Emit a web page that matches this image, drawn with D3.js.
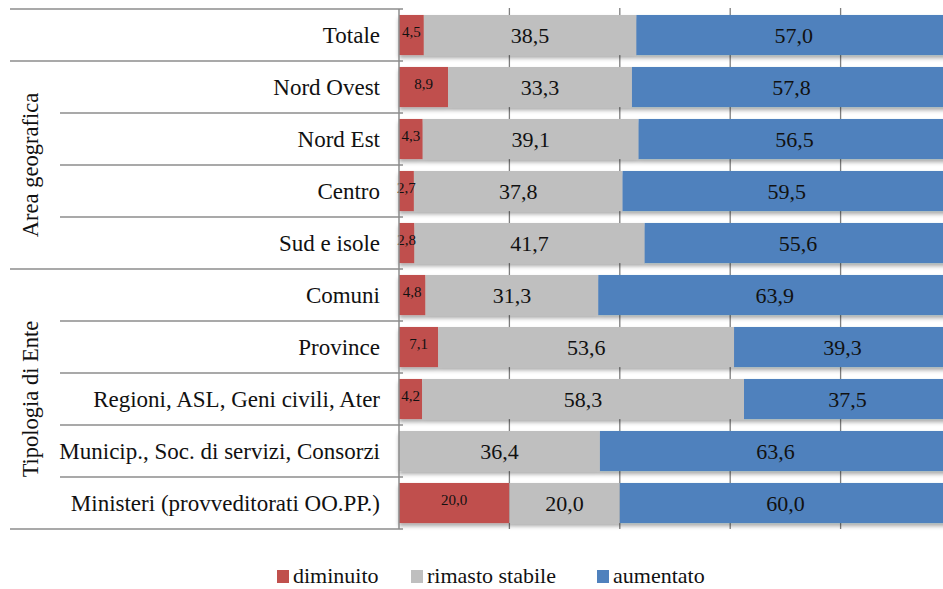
<!DOCTYPE html>
<html>
<head>
<meta charset="utf-8">
<script src="https://cdn.jsdelivr.net/npm/d3@7"></script>
<style>
  body { margin: 0; background: #fff; }
</style>
</head>
<body>
<div id="chart"></div>
<script>
var categories = ["Totale", "Nord Ovest", "Nord Est", "Centro", "Sud e isole", "Comuni", "Province",
  "Regioni, ASL, Geni civili, Ater", "Municip., Soc. di servizi, Consorzi", "Ministeri (provveditorati OO.PP.)"]
var diminuito = [4.5, 8.9, 4.3, 2.7, 2.8, 4.8, 7.1, 4.2, 0, 20.0]
var stabile   = [38.5, 33.3, 39.1, 37.8, 41.7, 31.3, 53.6, 58.3, 36.4, 20.0]
var aumentato = [57.0, 57.8, 56.5, 59.5, 55.6, 63.9, 39.3, 37.5, 63.6, 60.0]
var seriesNames = ["diminuito", "rimasto stabile", "aumentato"]
var groupNames = ["Area geografica", "Tipologia di Ente"]
var groupRows = [[1, 4], [5, 9]]   // first and last category index of each group
var gridTicks = [20, 40, 60, 80]

var colors = ["#C0504D", "#BFBFBF", "#4F81BD"]
var FONT = "'Liberation Serif', monospace"
var W = 943, H = 589

var svg = d3.select("#chart").append("svg")
    .attr("width", W).attr("height", H)

var defs = svg.append("defs")
var f = defs.append("filter").attr("id", "shadow")
    .attr("x", "-5%").attr("y", "-20%").attr("width", "110%").attr("height", "160%")
f.append("feDropShadow").attr("dx", 0).attr("dy", 3).attr("stdDeviation", 2)
  .attr("flood-color", "#000").attr("flood-opacity", 0.35)

var x = d3.scaleLinear().domain([0, 100]).range([399, 951])
var y = d3.scaleBand().domain(categories).range([9, 529])
    .paddingInner(0.23).paddingOuter(0.115)

var gap = (y.step() - y.bandwidth()) / 2
function rowTop(i) { return y(categories[i]) - gap }
function rowBottom(i) { return y(categories[i]) + y.bandwidth() + gap }

// gridlines
svg.append("g").selectAll("line")
  .data(gridTicks).enter().append("line")
  .attr("x1", d => x(d)).attr("x2", d => x(d))
  .attr("y1", rowTop(0) - 1).attr("y2", rowBottom(categories.length - 1))
  .attr("stroke", "#7f7f7f").attr("stroke-width", 1.3)

// stacked data
var rows = categories.map(function(c, i) {
  var vals = [diminuito[i], stabile[i], aumentato[i]]
  var x0 = 0
  return vals.map(function(v, s) {
    var seg = { cat: c, s: s, v: v, x0: x0, x1: x0 + v }
    x0 += v
    return seg
  })
})
var segs = rows.flat().filter(d => d.v > 0)

var barG = svg.append("g")
barG.selectAll("g.row").data(rows).enter().append("g")
  .attr("filter", "url(#shadow)")
  .selectAll("rect").data(d => d.filter(s => s.v > 0)).enter().append("rect")
  .attr("x", d => x(d.x0))
  .attr("y", d => y(d.cat))
  .attr("width", d => x(d.x1) - x(d.x0))
  .attr("height", y.bandwidth())
  .attr("fill", d => colors[d.s])

// value labels
svg.append("g").selectAll("text").data(segs).enter().append("text")
  .attr("x", d => (x(d.x0) + x(d.x1)) / 2)
  .attr("y", d => y(d.cat) + y.bandwidth() / 2 + (d.s == 0 ? -3 : 0))
  .attr("dy", "0.35em")
  .attr("text-anchor", "middle")
  .attr("font-family", FONT)
  .attr("font-size", d => d.s == 0 ? 15 : 22)
  .attr("fill", "#111")
  .text(d => d.v.toFixed(1).replace(".", ","))

// category labels
svg.append("g").selectAll("text").data(categories).enter().append("text")
  .attr("x", 380)
  .attr("y", d => y(d) + y.bandwidth() / 2)
  .attr("dy", "0.35em")
  .attr("text-anchor", "end")
  .attr("font-family", FONT)
  .attr("font-size", 23)
  .attr("fill", "#111")
  .text(d => d)

// table lines on the left
var lineCol = "#8c8c8c"
var tbl = svg.append("g").attr("stroke", lineCol).attr("stroke-width", 1.5)
tbl.append("line").attr("x1", 399).attr("x2", 399)
  .attr("y1", rowTop(0)).attr("y2", rowBottom(categories.length - 1))
var outer = [0, 1, 5, categories.length]
categories.concat(["end"]).forEach(function(c, i) {
  var yy = i < categories.length ? rowTop(i) : rowBottom(categories.length - 1)
  var x1 = outer.indexOf(i) >= 0 ? 10 : 60
  tbl.append("line").attr("x1", x1).attr("x2", 403).attr("y1", yy).attr("y2", yy)
})

// group labels
groupNames.forEach(function(g, k) {
  var cy = (rowTop(groupRows[k][0]) + rowBottom(groupRows[k][1])) / 2
  svg.append("text")
    .attr("transform", "translate(30," + cy + ") rotate(-90)")
    .attr("text-anchor", "middle")
    .attr("dy", "0.35em")
    .attr("font-family", FONT)
    .attr("font-size", 22.5)
    .attr("fill", "#111")
    .text(g)
})

// legend
var legX = [277, 411, 597]
var leg = svg.append("g")
seriesNames.forEach(function(n, i) {
  leg.append("rect").attr("x", legX[i]).attr("y", 570).attr("width", 12).attr("height", 13)
    .attr("fill", colors[i])
  leg.append("text").attr("x", legX[i] + 16).attr("y", 583)
    .attr("font-family", FONT)
    .attr("font-size", 22).attr("fill", "#111").text(n)
})
</script>
</body>
</html>
